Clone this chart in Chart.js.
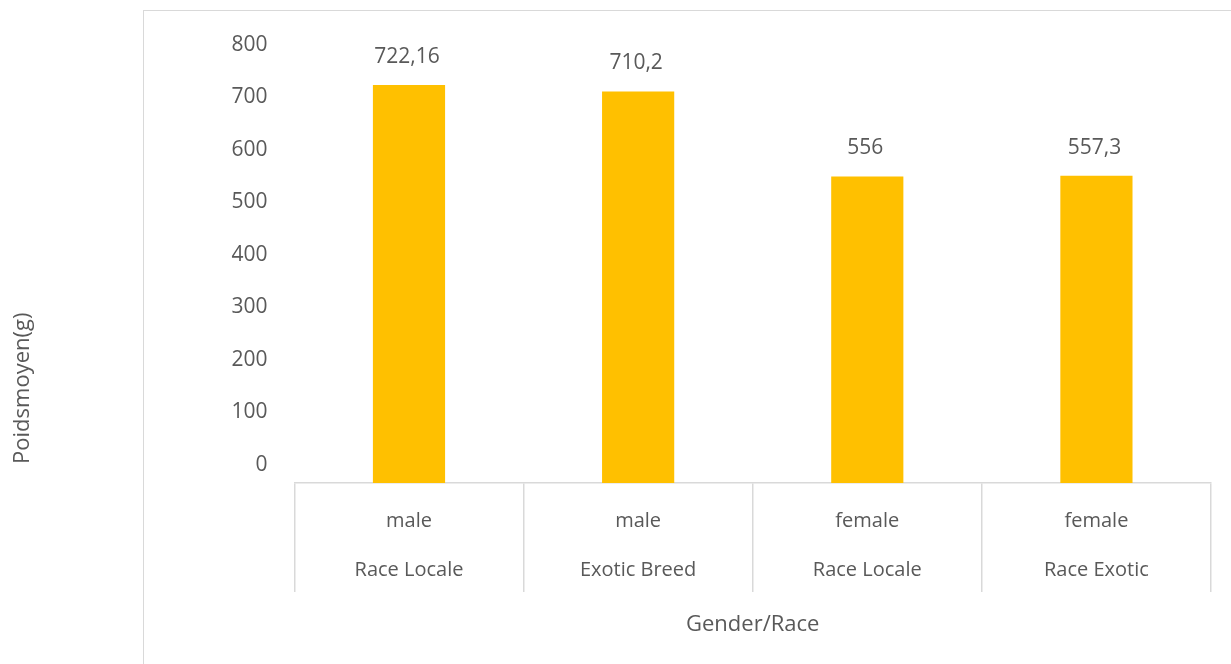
<!DOCTYPE html>
<html>
<head>
<meta charset="utf-8">
<script src="https://cdn.jsdelivr.net/npm/chart.js@4"></script>
<style>
  html, body { margin: 0; padding: 0; background: #fff; }
  #wrap { position: relative; width: 1231px; height: 664px; overflow: hidden; }
  #frame { position: absolute; left: 143px; top: 10px; width: 1200px; height: 800px; border: 1px solid #d9d9d9; box-sizing: border-box; }
  #chart-box { position: absolute; left: 0; top: 0; width: 1231px; height: 664px; }
</style>
</head>
<body>
<div id="wrap">
  <div id="frame"></div>
  <div id="chart-box"><canvas id="cv"></canvas></div>
</div>
<script>
// data
const genders = ['male', 'male', 'female', 'female']
const races = ['Race Locale', 'Exotic Breed', 'Race Locale', 'Race Exotic']
const poids = [722.16, 710.2, 556, 557.3]
const yTicks = [0, 100, 200, 300, 400, 500, 600, 700, 800]

const labels = genders.map((g, i) => [g, races[i]])
const grey = '#595959'
const font = 'Open Sans'

// value labels above each bar, french decimal comma
const valueLabels = {
  id: 'valueLabels',
  afterDatasetsDraw(chart) {
    const ctx = chart.ctx
    const meta = chart.getDatasetMeta(0)
    ctx.save()
    ctx.font = '21px "' + font + '"'
    ctx.fillStyle = grey
    ctx.textAlign = 'center'
    ctx.textBaseline = 'middle'
    meta.data.forEach((bar, i) => {
      ctx.fillText(String(poids[i]).replace('.', ','), bar.x - 2, bar.y - 28)
    })
    ctx.restore()
  }
}

new Chart(document.getElementById('cv'), {
  type: 'bar',
  data: {
    labels: labels,
    datasets: [{
      data: poids,
      backgroundColor: '#FFC000',
      barPercentage: 0.315,
      categoryPercentage: 1,
      yAxisID: 'y'
    }]
  },
  options: {
    responsive: true,
    maintainAspectRatio: false,
    animation: false,
    layout: { padding: { top: 42, right: 20, left: 0, bottom: 0 } },
    plugins: { legend: { display: false }, tooltip: { enabled: false } },
    scales: {
      x: {
        grid: { display: true, drawOnChartArea: false, drawTicks: true, tickLength: 109, color: '#d9d9d9', lineWidth: 1.5 },
        border: { display: true, color: '#d9d9d9', width: 1.5 },
        ticks: { color: grey, font: { family: font, size: 20, lineHeight: 2.45 }, padding: -95.5, maxRotation: 0 },
        title: {
          display: true, text: 'Gender/Race', color: grey,
          font: { family: font, size: 22 }, padding: { top: 112.6, bottom: 26 }
        }
      },
      // scale the bars are drawn against
      y: {
        display: false,
        min: 0,
        max: 800
      },
      // scale that only carries the tick labels (offset as in the original)
      yl: {
        position: 'left',
        min: -35,
        max: 805,
        afterBuildTicks: s => { s.ticks = yTicks.map(v => ({ value: v })) },
        grid: { display: false, drawTicks: false },
        border: { display: false },
        ticks: { color: grey, font: { family: font, size: 21 }, padding: 27 },
        title: {
          display: true,
          text: 'Poidsmoyen(g)' + '\u00a0'.repeat(44),
          color: grey,
          font: { family: font, size: 22 },
          padding: { top: 10, bottom: 168 }
        }
      }
    }
  },
  plugins: [valueLabels]
})
</script>
</body>
</html>
